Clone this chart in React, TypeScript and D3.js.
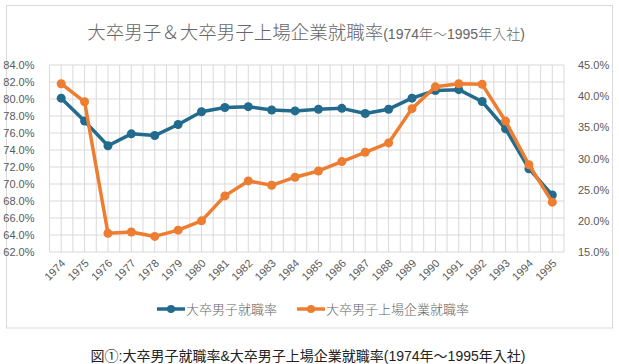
import React, { useEffect, useRef } from "react";
import * as d3 from "d3";

const years = [
  "1974", "1975", "1976", "1977", "1978", "1979", "1980", "1981", "1982", "1983", "1984",
  "1985", "1986", "1987", "1988", "1989", "1990", "1991", "1992", "1993", "1994", "1995",
];

// 大卒男子就職率 (left axis, %)
const employmentRate = [
  80.1, 77.4, 74.5, 75.9, 75.7, 77.0, 78.5, 79.0, 79.1, 78.7, 78.6,
  78.8, 78.9, 78.3, 78.8, 80.1, 81.0, 81.1, 79.7, 76.5, 71.8, 68.7,
];

// 大卒男子上場企業就職率 (right axis, %)
const listedRate = [
  42.0, 39.1, 18.0, 18.2, 17.5, 18.5, 20.0, 24.0, 26.4, 25.7, 27.0,
  28.0, 29.5, 31.0, 32.5, 38.0, 41.5, 42.0, 41.9, 36.0, 29.0, 23.0,
];

const leftTicks = [62, 64, 66, 68, 70, 72, 74, 76, 78, 80, 82, 84];
const rightTicks = [15, 20, 25, 30, 35, 40, 45];

const seriesNames = ["大卒男子就職率", "大卒男子上場企業就職率"];
const colors = ["#236b8e", "#ed7d31"];

const FONT = "'Liberation Sans', Arial, 'Noto Sans CJK JP', sans-serif";

const App: React.FC = () => {
  const svgRef = useRef<SVGSVGElement | null>(null);

  useEffect(() => {
    if (!svgRef.current) return;
    const svg = d3.select(svgRef.current);
    svg.selectAll("*").remove();

    const plot = { left: 49.5, right: 564, top: 65, bottom: 252 };

    const x = d3.scaleBand().domain(years).range([plot.left, plot.right]);
    const yL = d3.scaleLinear().domain([62, 84]).range([plot.bottom, plot.top]);
    const yR = d3.scaleLinear().domain([15, 45]).range([plot.bottom, plot.top]);
    const cx = (d: string) => (x(d) ?? 0) + x.bandwidth() / 2;

    // chart frame
    svg.append("rect")
      .attr("x", 6.5).attr("y", 5.5)
      .attr("width", 606).attr("height", 322.5)
      .attr("fill", "#fff")
      .attr("stroke", "#d9d9d9");

    // title
    const title = svg.append("text")
      .attr("x", 306).attr("y", 39)
      .attr("text-anchor", "middle")
      .attr("fill", "#666")
      .attr("font-weight", 300)
      .style("font-family", FONT);
    title.append("tspan").attr("font-size", 18.5).text("大卒男子＆大卒男子上場企業就職率");
    title.append("tspan").attr("font-size", 14).text("(1974年～1995年入社)");

    // gridlines
    const grid = svg.append("g").attr("stroke", "#d9d9d9").attr("stroke-width", 1);
    leftTicks.forEach(t => {
      grid.append("line")
        .attr("x1", plot.left).attr("x2", plot.right)
        .attr("y1", yL(t)).attr("y2", yL(t));
    });
    const vLines: number[] = [];
    years.forEach(y => {
      vLines.push(x(y) ?? 0);
      vLines.push(cx(y));
    });
    vLines.push(plot.right);
    vLines.forEach(v => {
      grid.append("line")
        .attr("x1", v).attr("x2", v)
        .attr("y1", plot.top).attr("y2", plot.bottom);
    });

    // left axis
    svg.append("g")
      .attr("transform", `translate(${plot.left - 12},0)`)
      .call(d3.axisLeft(yL).tickValues(leftTicks).tickFormat(d => `${(+d).toFixed(1)}%`).tickSize(0))
      .call(g => g.select(".domain").remove())
      .call(g => g.selectAll("text")
        .attr("fill", "#595959").attr("font-size", 11).style("font-family", FONT));

    // right axis
    svg.append("g")
      .attr("transform", `translate(${plot.right + 11},0)`)
      .call(d3.axisRight(yR).tickValues(rightTicks).tickFormat(d => `${(+d).toFixed(1)}%`).tickSize(0))
      .call(g => g.select(".domain").remove())
      .call(g => g.selectAll("text")
        .attr("fill", "#595959").attr("font-size", 11).style("font-family", FONT));

    // x labels
    svg.append("g")
      .selectAll("text")
      .data(years)
      .enter()
      .append("text")
      .attr("transform", d => `translate(${cx(d) + 5},${plot.bottom + 12}) rotate(-45)`)
      .attr("text-anchor", "end")
      .attr("fill", "#595959")
      .attr("font-size", 11)
      .style("font-family", FONT)
      .text(d => d);

    // series
    const drawSeries = (vals: number[], scale: d3.ScaleLinear<number, number>, color: string) => {
      const pts = vals.map((v, i) => [cx(years[i]), scale(v)] as [number, number]);
      svg.append("path")
        .attr("d", d3.line()(pts) ?? "")
        .attr("fill", "none")
        .attr("stroke", color)
        .attr("stroke-width", 3.5)
        .attr("stroke-linejoin", "round");
      svg.append("g")
        .selectAll("circle")
        .data(pts)
        .enter()
        .append("circle")
        .attr("cx", d => d[0])
        .attr("cy", d => d[1])
        .attr("r", 4.5)
        .attr("fill", color);
    };
    drawSeries(employmentRate, yL, colors[0]);
    drawSeries(listedRate, yR, colors[1]);

    // legend
    const legendX = [157, 297];
    seriesNames.forEach((name, i) => {
      const lg = svg.append("g").attr("transform", `translate(${legendX[i]},309)`);
      lg.append("line")
        .attr("x1", 0).attr("x2", 28)
        .attr("stroke", colors[i]).attr("stroke-width", 3.5);
      lg.append("circle").attr("cx", 14).attr("r", 4).attr("fill", colors[i]);
      lg.append("text")
        .attr("x", 29).attr("y", 4.5)
        .attr("fill", "#666")
        .attr("font-size", 13)
        .attr("font-weight", 300)
        .style("font-family", FONT)
        .text(name);
    });

    // caption
    svg.append("text")
      .attr("x", 308).attr("y", 361)
      .attr("text-anchor", "middle")
      .attr("fill", "#222")
      .attr("font-size", 14)
      .style("font-family", FONT)
      .text("図①:大卒男子就職率&大卒男子上場企業就職率(1974年～1995年入社)");
  }, []);

  return (
    <svg
      ref={svgRef}
      width={619}
      height={364}
      style={{ position: "absolute", left: 0, top: 0, background: "#fff" }}
    />
  );
};

export default App;
